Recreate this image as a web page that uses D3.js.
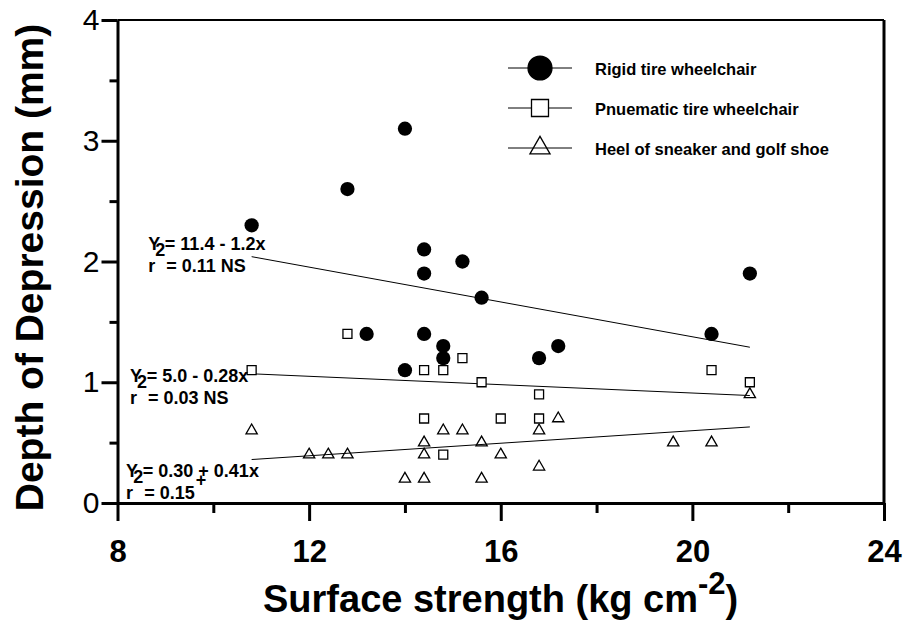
<!DOCTYPE html>
<html>
<head>
<meta charset="utf-8">
<script src="https://cdn.jsdelivr.net/npm/d3@7"></script>
<style>
  body { margin: 0; background: #fff; }
  svg { display: block; font-family: "Liberation Sans", Arial, sans-serif; }
</style>
</head>
<body>
<div id="chart"></div>
<script>
    const svgWidth = 904
    const svgHeight = 627
    const margin = { top: 20, right: 20, bottom: 124, left: 117.5 }

    // data
    const rigidX = [10.8, 12.8, 13.2, 14.0, 14.0, 14.4, 14.4, 14.4, 14.8, 14.8, 15.2, 15.6, 16.8, 17.2, 20.4, 21.2]
    const rigidY = [2.3, 2.6, 1.4, 3.1, 1.1, 2.1, 1.9, 1.4, 1.3, 1.2, 2.0, 1.7, 1.2, 1.3, 1.4, 1.9]
    const pneuX = [10.8, 12.8, 14.4, 14.8, 15.2, 15.6, 14.4, 16.0, 14.8, 16.8, 16.8, 20.4, 21.2]
    const pneuY = [1.1, 1.4, 1.1, 1.1, 1.2, 1.0, 0.7, 0.7, 0.4, 0.9, 0.7, 1.1, 1.0]
    const heelX = [10.8, 12.0, 12.4, 12.8, 14.0, 14.4, 14.4, 14.4, 14.8, 15.2, 15.6, 15.6, 16.0, 16.8, 16.8, 17.2, 19.6, 20.4, 21.2]
    const heelY = [0.6, 0.4, 0.4, 0.4, 0.2, 0.5, 0.4, 0.2, 0.6, 0.6, 0.5, 0.2, 0.4, 0.6, 0.3, 0.7, 0.5, 0.5, 0.9]

    // fitted lines (ends)
    const fitX = [10.8, 21.2]
    const rigidFit = [2.04, 1.29]
    const pneuFit = [1.07, 0.89]
    const heelFit = [0.36, 0.63]

    const fitEquations = ["Y = 11.4 - 1.2x", "Y = 5.0 - 0.28x", "Y = 0.30 + 0.41x"]
    const fitR2 = ["= 0.11 NS", "= 0.03 NS", "= 0.15"]
    const fitMark = ["", "", "+"]

    const legendLabels = ["Rigid tire wheelchair", "Pnuematic tire wheelchair", "Heel of sneaker and golf shoe"]

    const xMajor = [8, 12, 16, 20, 24]
    const xMinor = [10, 14, 18, 22]
    const yMajor = [0, 1, 2, 3, 4]
    const yMinor = [0.5, 1.5, 2.5, 3.5]

    // where the equations sit (data units)
    const eqPos = [[8.64, 2.095], [8.26, 1.005], [8.18, 0.218]]
    const legendRows = [68, 108, 148]

    const x = d3.scaleLinear().domain([8, 24]).range([margin.left, svgWidth - margin.right])
    const y = d3.scaleLinear().domain([0, 4]).range([svgHeight - margin.bottom, margin.top])

    const svg = d3.select("#chart")
      .append("svg")
      .attr("width", svgWidth)
      .attr("height", svgHeight)

    // frame top + right
    svg.append("line")
      .attr("x1", x(8)).attr("x2", x(24))
      .attr("y1", y(4)).attr("y2", y(4))
      .attr("stroke", "#000").attr("stroke-width", 2)
    svg.append("line")
      .attr("x1", x(24)).attr("x2", x(24))
      .attr("y1", y(4)).attr("y2", y(0))
      .attr("stroke", "#000").attr("stroke-width", 3)

    // x axis
    const xAxisG = svg.append("g")
      .attr("transform", `translate(0,${y(0)})`)
      .call(d3.axisBottom(x).tickValues(xMajor).tickSize(18).tickSizeOuter(0))
    xAxisG.append("g")
      .call(d3.axisBottom(x).tickValues(xMinor).tickSize(10).tickFormat(""))
      .select(".domain").remove()
    xAxisG.selectAll("text")
      .attr("y", 59).attr("dy", 0)
      .style("font-size", "31px").style("font-weight", "bold")
      .style("font-family", "'Liberation Sans', Arial, sans-serif")
      .attr("fill", "#000")

    // y axis
    const yAxisG = svg.append("g")
      .attr("transform", `translate(${x(8)},0)`)
      .call(d3.axisLeft(y).tickValues(yMajor).tickFormat(d3.format("d")).tickSize(16).tickPadding(2).tickSizeOuter(0))
    yAxisG.append("g")
      .call(d3.axisLeft(y).tickValues(yMinor).tickSize(8).tickFormat(""))
      .select(".domain").remove()
    yAxisG.selectAll("text")
      .style("font-size", "30px")
      .style("font-family", "'Liberation Sans', Arial, sans-serif")
      .attr("fill", "#000")

    svg.selectAll(".domain, .tick line")
      .attr("stroke", "#000")
      .attr("stroke-width", 3)

    // axis titles
    svg.append("text")
      .attr("transform", `translate(43,${(y(4) + y(0)) / 2 + 6}) rotate(-90)`)
      .attr("text-anchor", "middle")
      .style("font-size", "39px").style("font-weight", "bold")
      .text("Depth of Depression (mm)")

    const xTitle = svg.append("text")
      .attr("x", 263).attr("y", 612)
      .style("font-size", "38px").style("font-weight", "bold")
    xTitle.append("tspan").text("Surface strength (kg cm")
    xTitle.append("tspan").attr("dy", -18).style("font-size", "31px").text("-2")
    xTitle.append("tspan").attr("dy", 18).text(")")

    // regression lines
    const fits = [rigidFit, pneuFit, heelFit]
    svg.selectAll(".fit")
      .data(fits).enter().append("line")
      .attr("class", "fit")
      .attr("x1", x(fitX[0])).attr("x2", x(fitX[1]))
      .attr("y1", d => y(d[0])).attr("y2", d => y(d[1]))
      .attr("stroke", "#000").attr("stroke-width", 1)

    // markers
    const rigid = d3.zip(rigidX, rigidY)
    const pneu = d3.zip(pneuX, pneuY)
    const heel = d3.zip(heelX, heelY)

    svg.selectAll(".heel")
      .data(heel).enter().append("path")
      .attr("class", "heel")
      .attr("d", d3.symbol(d3.symbolTriangle, 55))
      .attr("transform", d => `translate(${x(d[0])},${y(d[1])})`)
      .attr("fill", "#fff").attr("fill-opacity", 0).attr("stroke", "#000").attr("stroke-width", 1.3)

    svg.selectAll(".pneu")
      .data(pneu).enter().append("path")
      .attr("class", "pneu")
      .attr("d", d3.symbol(d3.symbolSquare, 81))
      .attr("transform", d => `translate(${x(d[0])},${y(d[1])})`)
      .attr("fill", "#fff").attr("stroke", "#000").attr("stroke-width", 1.3)

    svg.selectAll(".rigid")
      .data(rigid).enter().append("path")
      .attr("class", "rigid")
      .attr("d", d3.symbol(d3.symbolCircle, 160))
      .attr("transform", d => `translate(${x(d[0])},${y(d[1])})`)
      .attr("fill", "#000")

    // equations
    fitEquations.forEach((eq, i) => {
      const px = x(eqPos[i][0]), py = y(eqPos[i][1])
      svg.append("text")
        .attr("x", px).attr("y", py)
        .style("font-size", "18px").style("font-weight", "bold")
        .text(eq)
      const r = svg.append("text")
        .attr("x", px).attr("y", py + 22)
        .style("font-size", "18px").style("font-weight", "bold")
      r.append("tspan").text("r")
      r.append("tspan").attr("dy", -16).text("2")
      r.append("tspan").attr("dy", 16).attr("dx", 1).text(fitR2[i])
      if (fitMark[i]) r.append("tspan").attr("dy", -13).attr("dx", 1).text(fitMark[i])
    })

    // legend
    const legendSymbols = [
      { type: d3.symbolCircle, size: 450, fill: "#000" },
      { type: d3.symbolSquare, size: 289, fill: "#fff" },
      { type: d3.symbolTriangle, size: 175, fill: "#fff" }
    ]
    const legend = svg.selectAll(".legend")
      .data(legendLabels).enter().append("g")
      .attr("class", "legend")
      .attr("transform", (d, i) => `translate(540,${legendRows[i]})`)
    legend.append("line")
      .attr("x1", -32).attr("x2", 32)
      .attr("stroke", "#000").attr("stroke-width", 1)
    legend.append("path")
      .attr("d", (d, i) => d3.symbol(legendSymbols[i].type, legendSymbols[i].size)())
      .attr("fill", (d, i) => legendSymbols[i].fill)
      .attr("fill-opacity", (d, i) => i === 2 ? 0 : 1)
      .attr("stroke", "#000").attr("stroke-width", 1.3)
    legend.append("text")
      .attr("x", 55).attr("y", 7)
      .style("font-size", "16.5px").style("font-weight", "bold")
      .text(d => d)
</script>
</body>
</html>
